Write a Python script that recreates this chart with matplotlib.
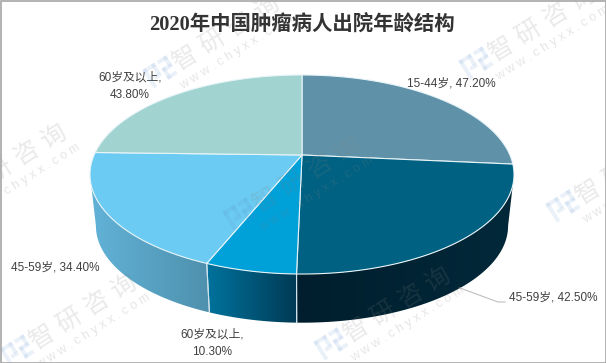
import numpy as np
import matplotlib
matplotlib.use('Agg')
import matplotlib.pyplot as plt
from matplotlib.colors import LinearSegmentedColormap
from matplotlib.patches import Polygon, Rectangle
from matplotlib.transforms import Affine2D

# Data
title = "2020年中国肿瘤病人出院年龄结构"
categories = ["15-44岁", "45-59岁", "60岁及以上", "45-59岁", "60岁及以上"]
values = [47.2, 42.5, 10.3, 34.4, 43.8]

top_colors = ["#5f92a8", "#006182", "#00a0d8", "#6bcbf2", "#a1d4d1"]
wall_colors = {1: ("#001e2d", "#02293a"), 2: ("#01739d", "#003a55"), 3: ("#62b3d8", "#4e90ad")}

# label centre positions in pixels, same order as values
label_pos = [(451, 84), (553, 297), (212, 343), (55.5, 267), (130, 86.5)]
two_line = [False, False, True, False, True]

watermark_logos = [(160, 72), (476, 63), (240, 214), (17, 351), (563, 206), (331, 344), (-53, 201)]

plt.rcParams['font.family'] = ['Liberation Sans', 'Noto Sans CJK SC']

fig = plt.figure(figsize=(6.06, 3.63), dpi=100)
ax = fig.add_axes([0, 0, 1, 1])
ax.set_xlim(0, 606)
ax.set_ylim(363, 0)
ax.axis('off')

# 3D pie geometry, perspective fitted on the reference
cx, cy = 302, 155
k = 0.196
A, B = 95.7, 207.9
depth_scale = 0.972
cy_bottom = 207


def project(theta, scale=1.0, center_y=cy):
    u, v = np.sin(theta), np.cos(theta)
    w = 1 + k * v
    return cx + scale * B * u / w, center_y - scale * A * v / w


edges = np.radians(np.concatenate([[0], np.cumsum(values)]) / np.sum(values) * 360)
front_start = np.arccos(-k)
front_end = 2 * np.pi - front_start

# side wall, drawn as gradient clipped to polygon
for i, pair in wall_colors.items():
    t0 = max(edges[i], front_start)
    t1 = min(edges[i + 1], front_end)
    t = np.linspace(t0, t1, 80)
    xt, yt = project(t)
    xb, yb = project(t, depth_scale, cy_bottom)
    pts = np.column_stack([np.r_[xt, xb[::-1]], np.r_[yt, yb[::-1]]])
    poly = Polygon(pts, closed=True, facecolor='none', edgecolor='none')
    ax.add_patch(poly)
    cmap = LinearSegmentedColormap.from_list('wall%d' % i, pair)
    im = ax.imshow(np.linspace(0, 1, 256).reshape(1, -1), cmap=cmap, aspect='auto',
                   extent=(pts[:, 0].min(), pts[:, 0].max(), pts[:, 1].max(), pts[:, 1].min()),
                   zorder=2)
    im.set_clip_path(poly)
    # light seam on the slice boundaries of the wall
    for tb in [edges[i], edges[i + 1]]:
        if front_start < tb < front_end:
            xa, ya = project(tb)
            xc, yc = project(tb, depth_scale, cy_bottom)
            ax.plot([xa, xc], [ya, yc], color='#cfe3ec', lw=0.8, zorder=3)
ax.set_xlim(0, 606)
ax.set_ylim(363, 0)

# top face
for i, c in enumerate(top_colors):
    t = np.linspace(edges[i], edges[i + 1], 120)
    x, y = project(t)
    pts = np.column_stack([np.r_[cx, x], np.r_[cy, y]])
    ax.add_patch(Polygon(pts, closed=True, facecolor=c, edgecolor='#e8f4f8', lw=0.8, zorder=4))

# labels
for i, (name, val) in enumerate(zip(categories, values)):
    sep = ",\n" if two_line[i] else ", "
    ax.text(label_pos[i][0], label_pos[i][1], f"{name}{sep}{val:.2f}%", fontsize=8.5, color='#404040',
            ha='center', va='center', linespacing=1.6, zorder=6)

# leader line of the 42.50% label
ax.plot([460, 498, 505], [288, 302, 302], color='#bfbfbf', lw=0.8, zorder=5)

# title
ax.text(302, 24, title, fontsize=14.7, fontweight='bold', color='#333333', ha='center', va='center',
        family=['Liberation Serif', 'Noto Sans CJK SC'], zorder=6)

# watermarks
for lx, ly in watermark_logos:
    rot = Affine2D().rotate_deg(-32).translate(lx, ly) + ax.transData
    for (x0, y0, w, h) in [(-14, -11, 14, 4), (-14, -11, 4, 22), (-4, -11, 4, 12), (-8, 0, 8, 4),
                           (3, -11, 11, 4), (10, -11, 4, 12), (3, -2, 11, 4), (3, -2, 4, 13),
                           (3, 7, 11, 4)]:
        ax.add_patch(Rectangle((x0, y0), w, h, facecolor='#5b8fd0', edgecolor='none', alpha=0.12,
                               transform=rot, zorder=7))
    ax.text(lx + 66, ly - 39, "智 研 咨 询", fontsize=18, color='#808080', alpha=0.17, rotation=32,
            rotation_mode='anchor', ha='center', va='center', zorder=7)
    ax.text(lx + 76, ly - 20, "w w w . c h y x x . c o m", fontsize=9, color='#808080', alpha=0.2,
            rotation=32, rotation_mode='anchor', ha='center', va='center', zorder=7)

# chart border
ax.add_patch(Rectangle((0.5, 0.5), 605, 362, facecolor='none', edgecolor='#a6a6a6', lw=1.2, zorder=8,
                       clip_on=False))

fig.savefig('out.png', dpi=100)
